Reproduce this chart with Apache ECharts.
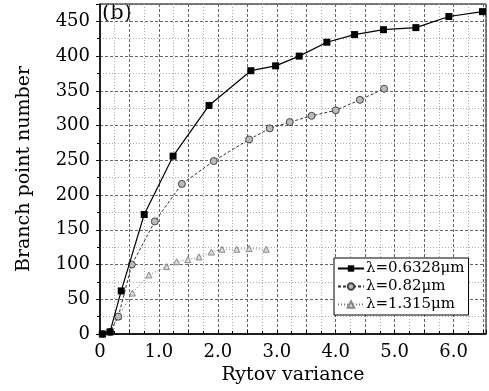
<!DOCTYPE html>
<html>
<head>
<meta charset="utf-8">
<script src="https://cdn.jsdelivr.net/npm/echarts@6/dist/echarts.min.js"></script>
<style>
  html, body { margin: 0; padding: 0; background: #fff; }
  #chart { width: 489px; height: 391px; }
</style>
</head>
<body>
<div id="chart"></div>
<script>
// 数据：从图上读出的 [Rytov variance, Branch point number]
var seriesNames = ['λ=0.6328μm', 'λ=0.82μm', 'λ=1.315μm'];
var data0632 = [[0.04, 0], [0.17, 3], [0.36, 62], [0.75, 172], [1.24, 256], [1.85, 329],
    [2.56, 379], [2.98, 386], [3.38, 400], [3.85, 420], [4.32, 431], [4.81, 438],
    [5.36, 441], [5.92, 457], [6.49, 464]];
var data082 = [[0.04, 0], [0.17, 3], [0.31, 25], [0.54, 100], [0.93, 162], [1.39, 216],
    [1.93, 249], [2.53, 280], [2.88, 296], [3.22, 305], [3.59, 314], [4.0, 322],
    [4.41, 337], [4.82, 353]];
var data1315 = [[0.04, 0], [0.17, 3], [0.31, 25], [0.55, 59], [0.83, 85], [1.13, 97],
    [1.3, 104], [1.49, 107], [1.68, 111], [1.89, 118], [2.07, 122], [2.32, 122],
    [2.53, 123], [2.82, 122]];
var xLabels = ['0', '1.0', '2.0', '3.0', '4.0', '5.0', '6.0'];

var fontName = 'DejaVu Serif';

var chart = echarts.init(document.getElementById('chart'));
chart.setOption({
    backgroundColor: '#fff',
    animation: false,
    textStyle: { fontFamily: fontName, color: '#000' },
    grid: { left: 100, right: 2, top: 4, bottom: 57, show: true, borderColor: '#000', borderWidth: 1, backgroundColor: 'transparent' },
    legend: {
        orient: 'vertical',
        left: 334,
        top: 258,
        data: seriesNames,
        backgroundColor: '#fff',
        borderColor: '#000',
        borderWidth: 1,
        borderRadius: 0,
        padding: [3, 4, 3, 3],
        itemGap: 3,
        itemWidth: 26,
        itemHeight: 8,
        textStyle: { fontFamily: fontName, fontSize: 15, color: '#000', padding: [0, 0, 0, -3] }
    },
    graphic: [{
        type: 'text',
        left: 102,
        top: 3,
        style: { text: '(b)', fontFamily: fontName, fontSize: 21, fill: '#000' }
    }],
    xAxis: {
        type: 'value',
        min: 0,
        max: 6.55,
        interval: 0.5,
        name: 'Rytov variance',
        nameLocation: 'middle',
        nameGap: 29,
        nameTextStyle: { fontFamily: fontName, fontSize: 19, color: '#000' },
        axisLine: { show: true, onZero: false, lineStyle: { color: '#000', width: 1.5 } },
        axisTick: { show: true, inside: true, length: 4, lineStyle: { color: '#000' } },
        minorTick: { show: true, splitNumber: 2, length: 3, lineStyle: { color: '#000' } },
        axisLabel: {
            margin: 9,
            fontFamily: fontName, fontSize: 18, color: '#000',
            formatter: function (v) {
                var i = Math.round(v);
                if (Math.abs(v - i) > 1e-6 || i > 6) return '';
                return xLabels[i];
            }
        },
        splitLine: { show: true, lineStyle: { color: '#666', type: [3, 2], width: 1 } },
        minorSplitLine: { show: true, lineStyle: { color: '#aaa', type: [1, 2], width: 1 } }
    },
    yAxis: {
        type: 'value',
        min: 0,
        max: 475,
        interval: 50,
        name: 'Branch point number',
        nameLocation: 'middle',
        nameGap: 66,
        nameTextStyle: { fontFamily: fontName, fontSize: 19, color: '#000' },
        axisLine: { show: true, lineStyle: { color: '#000', width: 1.5 } },
        axisTick: { show: true, inside: false, length: 4, lineStyle: { color: '#000' } },
        minorTick: { show: true, splitNumber: 2, length: 3, lineStyle: { color: '#000' } },
        axisLabel: {
            margin: 10,
            fontFamily: fontName, fontSize: 18, color: '#000',
            formatter: function (v) { return v % 50 === 0 ? String(v) : ''; }
        },
        splitLine: { show: true, lineStyle: { color: '#666', type: [3, 2], width: 1 } },
        minorSplitLine: { show: true, lineStyle: { color: '#aaa', type: [1, 2], width: 1 } }
    },
    series: [
        {
            name: seriesNames[0],
            type: 'line',
            data: data0632,
            symbol: 'rect',
            symbolSize: 7,
            showAllSymbol: true,
            itemStyle: { color: '#000' },
            lineStyle: { color: '#000', width: 1.2, type: 'solid' },
            z: 5
        },
        {
            name: seriesNames[1],
            type: 'line',
            data: data082,
            symbol: 'circle',
            symbolSize: 7,
            showAllSymbol: true,
            itemStyle: { color: '#bbb', borderColor: '#444', borderWidth: 1 },
            lineStyle: { color: '#333', width: 1, type: [3, 2] },
            z: 4
        },
        {
            name: seriesNames[2],
            type: 'line',
            data: data1315,
            symbol: 'triangle',
            symbolSize: 6,
            showAllSymbol: true,
            itemStyle: { color: '#ddd', borderColor: '#888', borderWidth: 1 },
            lineStyle: { color: '#777', width: 1, type: [1, 2] },
            z: 3
        }
    ]
});
</script>
</body>
</html>
